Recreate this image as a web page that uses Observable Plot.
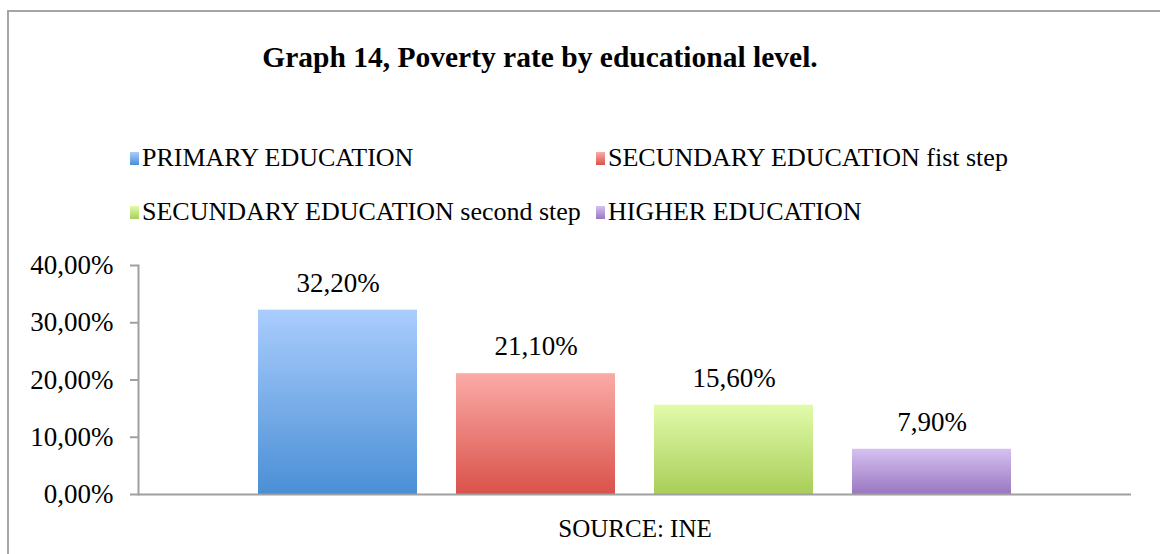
<!DOCTYPE html>
<html>
<head>
<meta charset="utf-8">
<script src="https://cdn.jsdelivr.net/npm/d3@7"></script>
<script src="https://cdn.jsdelivr.net/npm/@observablehq/plot@0.6"></script>
<style>
  html, body { margin: 0; padding: 0; background: #fff; overflow: hidden; }
  #wrap { position: relative; width: 1160px; height: 554px; font-family: "Liberation Serif", serif; }
  #frame { position: absolute; left: 7px; top: 10px; width: 1200px; height: 600px; border: 2px solid #a6a6a6; box-sizing: border-box; }
  #title { position: absolute; left: 0; width: 1080px; top: 40px; text-align: center; font-weight: bold; font-size: 29.5px; color: #000; line-height: 34px; }
  .leg { position: absolute; font-size: 26px; color: #000; line-height: 30px; white-space: nowrap; }
  .sw { position: absolute; width: 9px; height: 13px; }
  #chart { position: absolute; left: 0; top: 0; }
</style>
</head>
<body>
<div id="wrap">
  <div id="frame"></div>
  <div id="title"></div>
  <div id="legend"></div>
  <div id="chart"></div>
</div>
<script>
const title = "Graph 14, Poverty rate by educational level.";
const categories = ["PRIMARY EDUCATION", "SECUNDARY EDUCATION fist step", "SECUNDARY EDUCATION second step", "HIGHER EDUCATION"];
const values = [32.2, 21.1, 15.6, 7.9];
const topColors = ["#aacdfd", "#fbaba7", "#e2fbab", "#d5c1f1"];
const bottomColors = ["#4a8fd6", "#d9524a", "#a8ce58", "#9a77c1"];
const yTicks = [0, 10, 20, 30, 40];
const sourceLabel = "SOURCE: INE";

const fmt = v => v.toFixed(2).replace(".", ",") + "%";

document.getElementById("title").textContent = title;

// legend (2 x 2 grid)
const legend = document.getElementById("legend");
const legPos = [[130, 143], [596, 143], [130, 197], [596, 197]];
categories.forEach((c, i) => {
  const sw = document.createElement("div");
  sw.className = "sw";
  sw.style.left = legPos[i][0] + "px";
  sw.style.top = (legPos[i][1] + 9) + "px";
  sw.style.background = `linear-gradient(${topColors[i]}, ${bottomColors[i]})`;
  legend.appendChild(sw);
  const t = document.createElement("div");
  t.className = "leg";
  t.style.left = (legPos[i][0] + 12) + "px";
  t.style.top = legPos[i][1] + "px";
  t.textContent = c;
  legend.appendChild(t);
});

const data = categories.map((c, i) => ({cat: c, value: values[i], i}));

const defs = () => {
  const d = d3.create("svg:defs");
  data.forEach(({i}) => {
    const g = d.append("linearGradient").attr("id", "grad" + i).attr("x1", 0).attr("y1", 0).attr("x2", 0).attr("y2", 1);
    g.append("stop").attr("offset", "0%").attr("stop-color", topColors[i]);
    g.append("stop").attr("offset", "100%").attr("stop-color", bottomColors[i]);
  });
  const f = d.append("filter").attr("id", "shadow").attr("x", "-10%").attr("y", "-10%").attr("width", "130%").attr("height", "130%");
  f.append("feDropShadow").attr("dx", 2).attr("dy", 2).attr("stdDeviation", 2).attr("flood-color", "#000").attr("flood-opacity", 0.25);
  return d.node();
};

const plot = Plot.plot({
  width: 1160,
  height: 554,
  marginTop: 265,
  marginBottom: 60,
  marginLeft: 138,
  marginRight: 29,
  style: {fontFamily: "Liberation Serif, serif", fontSize: "27px", color: "#000", background: "transparent"},
  x: {domain: categories, paddingInner: 0.196, paddingOuter: 0.593, axis: null},
  y: {domain: [0, 40], ticks: yTicks, tickFormat: fmt, label: null},
  color: {type: "identity"},
  marks: [
    defs,
    Plot.axisY({ticks: yTicks, tickFormat: fmt, tickSize: 8, tickPadding: 17, stroke: "#a0a0a0", strokeWidth: 2, fill: "#000", label: null, fontSize: 27}),
    Plot.frame({anchor: "left", stroke: "#a0a0a0", strokeWidth: 2}),
    Plot.barY(data, {x: "cat", y: "value", fill: d => `url(#grad${d.i})`, style: "filter: url(#shadow)"}),
    Plot.ruleY([0], {stroke: "#a0a0a0", strokeWidth: 2}),
    Plot.text(data, {x: "cat", y: "value", text: d => fmt(d.value), dy: -27, lineAnchor: "middle", fill: "#000", fontSize: 27}),
    Plot.text([sourceLabel], {frameAnchor: "bottom", dy: 34, lineAnchor: "middle", fill: "#000", fontSize: 25})
  ]
});
document.getElementById("chart").appendChild(plot);
</script>
</body>
</html>
